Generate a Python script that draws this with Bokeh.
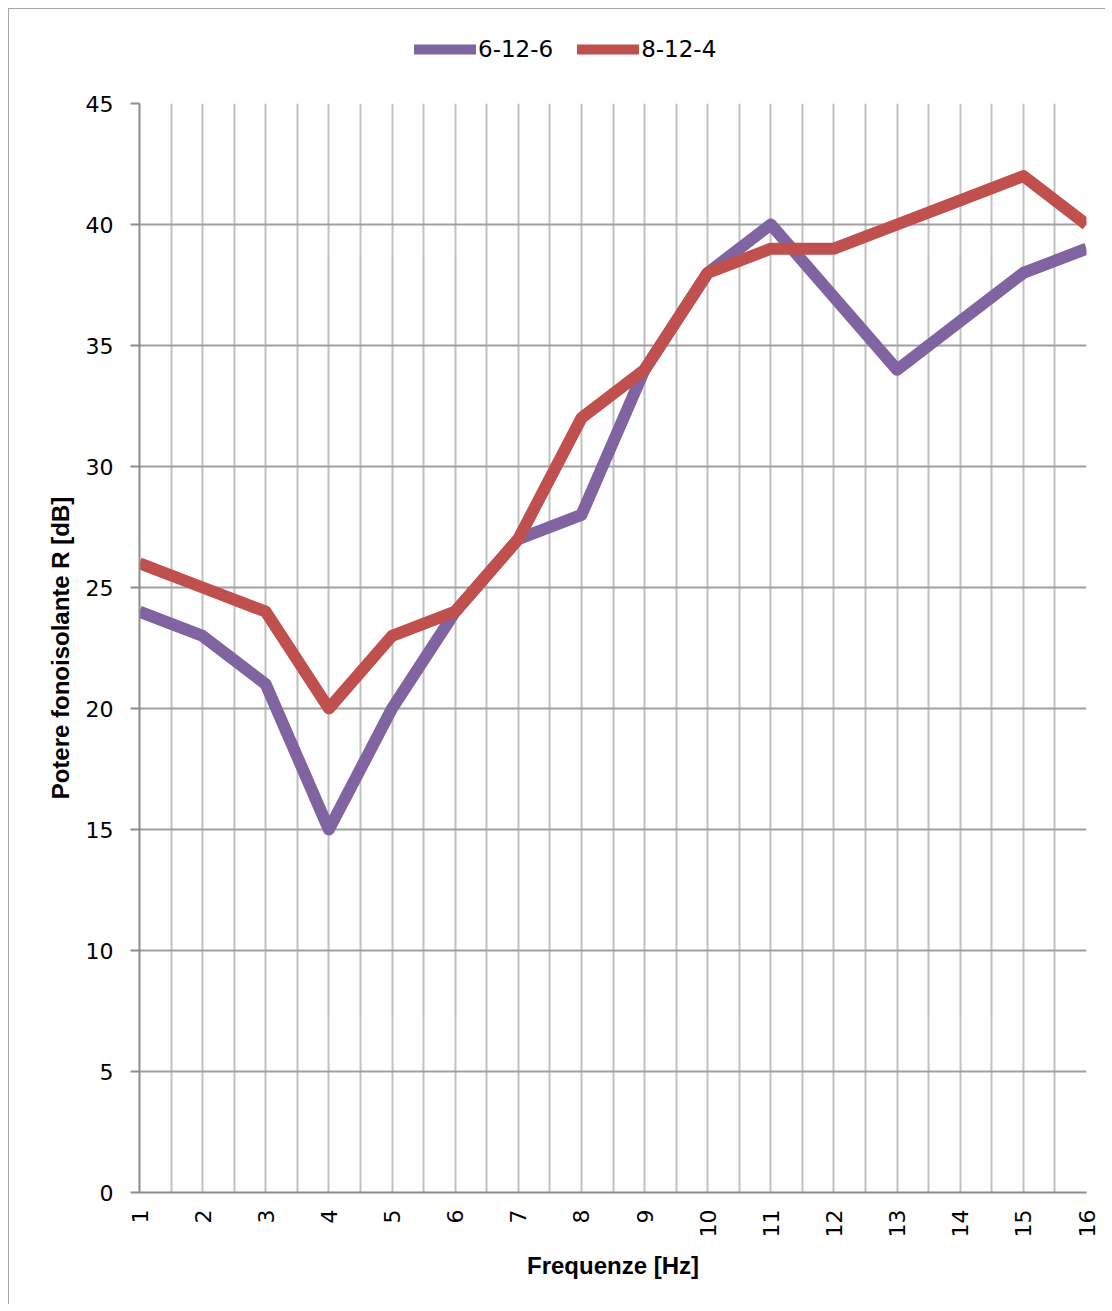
from bokeh.plotting import figure
from bokeh.layouts import column
from bokeh.models import FixedTicker, Legend, LegendItem, Range1d
from bokeh.embed import file_html
from bokeh.resources import INLINE
import math

freq = list(range(1, 17))
s_6_12_6 = [24, 23, 21, 15, 20, 24, 27, 28, 34, 38, 40, 37, 34, 36, 38, 39]
s_8_12_4 = [26, 25, 24, 20, 23, 24, 27, 32, 34, 38, 39, 39, 40, 41, 42, 40]
y_ticks = [0, 5, 10, 15, 20, 25, 30, 35, 40, 45]
grid_x = [1, 1.5, 2, 2.5, 3, 3.5, 4, 4.5, 5, 5.5, 6, 6.5, 7, 7.5, 8, 8.5,
          9, 9.5, 10, 10.5, 11, 11.5, 12, 12.5, 13, 13.5, 14, 14.5, 15, 15.5, 16]
names = ["6-12-6", "8-12-4"]
colors = ["#8064A2", "#C0504D"]

# ---- main chart ----
p = figure(width=1096, height=1217, output_backend="svg", toolbar_location=None,
           x_range=Range1d(1, 16), y_range=Range1d(0, 45),
           min_border_left=130, min_border_top=16, min_border_right=19, min_border_bottom=112)
p.outline_line_color = None

p.line(freq, s_6_12_6, line_color=colors[0], line_width=12, line_join="round")
p.line(freq, s_8_12_4, line_color=colors[1], line_width=12, line_join="round")

p.xaxis.ticker = FixedTicker(ticks=freq)
p.xaxis.major_label_orientation = math.pi / 2
p.xaxis.major_tick_out = 0
p.xaxis.major_tick_in = 0
p.xaxis.minor_tick_out = 0
p.xaxis.minor_tick_in = 0
p.xaxis.axis_line_color = "#8c8c8c"
p.xaxis.axis_line_width = 2
p.xaxis.major_label_text_font = "DejaVu Sans"
p.xaxis.major_label_text_font_size = "22px"
p.xaxis.major_label_text_color = "#000000"
p.xaxis.major_label_standoff = 17
p.xaxis.axis_label = "Frequenze [Hz]"
p.xaxis.axis_label_text_font = "Liberation Sans"
p.xaxis.axis_label_text_font_style = "bold"
p.xaxis.axis_label_text_font_size = "24px"
p.xaxis.axis_label_text_color = "#000000"
p.xaxis.axis_label_standoff = 12

p.yaxis.ticker = FixedTicker(ticks=y_ticks)
p.yaxis.minor_tick_out = 0
p.yaxis.minor_tick_in = 0
p.yaxis.major_tick_in = 0
p.yaxis.major_tick_out = 9
p.yaxis.major_tick_line_color = "#8c8c8c"
p.yaxis.major_tick_line_width = 2
p.yaxis.axis_line_color = "#8c8c8c"
p.yaxis.axis_line_width = 2
p.yaxis.major_label_text_font = "DejaVu Sans"
p.yaxis.major_label_text_font_size = "22px"
p.yaxis.major_label_text_color = "#000000"
p.yaxis.major_label_standoff = 17
p.yaxis.axis_label = "Potere fonoisolante R [dB]"
p.yaxis.axis_label_text_font = "Liberation Sans"
p.yaxis.axis_label_text_font_style = "bold"
p.yaxis.axis_label_text_font_size = "24px"
p.yaxis.axis_label_text_color = "#000000"
p.yaxis.axis_label_standoff = 9

p.xgrid.ticker = FixedTicker(ticks=grid_x)
p.xgrid.bounds = (0, 17)
p.xgrid.grid_line_color = "#c0c0c0"
p.xgrid.grid_line_width = 2
p.ygrid.ticker = FixedTicker(ticks=y_ticks)
p.ygrid.bounds = (-1, 46)
p.ygrid.grid_line_color = "#a0a0a0"
p.ygrid.grid_line_width = 2

# ---- legend strip above the chart (series drawn out of view, only the key shows) ----
lf = figure(width=1096, height=78, output_backend="svg", toolbar_location=None,
            x_axis_location=None, y_axis_location=None,
            x_range=Range1d(1, 16), y_range=Range1d(100, 101), min_border=0)
lf.outline_line_color = None
lf.grid.visible = False
k1 = lf.line(freq, s_6_12_6, line_color=colors[0], line_width=10, line_cap="round")
k2 = lf.line(freq, s_8_12_4, line_color=colors[1], line_width=10, line_cap="round")
legend = Legend(items=[LegendItem(label=names[0], renderers=[k1]),
                       LegendItem(label=names[1], renderers=[k2])],
                orientation="horizontal", location=(275, 25),
                glyph_width=62, glyph_height=20, label_standoff=2, spacing=24,
                padding=0, margin=0, border_line_color=None, background_fill_alpha=0,
                label_text_font="DejaVu Sans", label_text_font_size="23px",
                label_text_color="#000000")
lf.add_layout(legend, "center")

layout = column(lf, p, spacing=0,
                styles={"margin-left": "8px", "margin-top": "8px",
                        "border-left": "1px solid #a6a6a6", "border-top": "1px solid #a6a6a6"})

open("out.html", "w").write(file_html(layout, INLINE))
